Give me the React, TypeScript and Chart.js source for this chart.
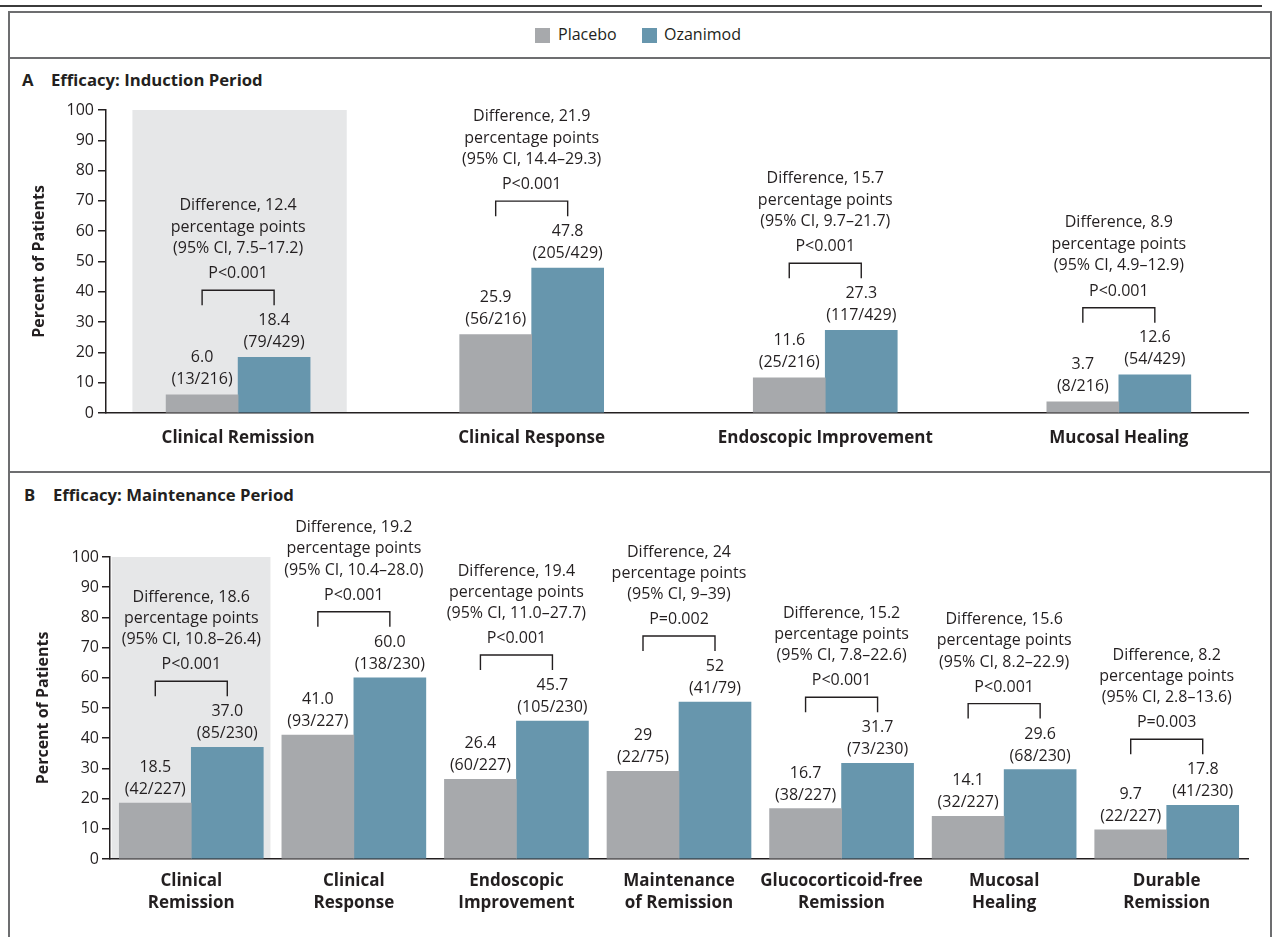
import React, { useEffect, useRef } from 'react';
import { Chart, registerables } from 'chart.js';

Chart.register(...registerables);

const FONT = '"Open Sans", "Noto Sans", sans-serif';
const TEXT = '#231f20';
const AXIS = '#231f20';
const PLACEBO_COLOR = '#a7a9ac';
const OZ_COLOR = '#6796ad';
const BAND_COLOR = '#e6e7e8';
const FRAME = '#6d6e70';

const seriesNames = ['Placebo', 'Ozanimod'];

// ---- Panel A: induction period ----
const categoriesA = ['Clinical Remission', 'Clinical Response', 'Endoscopic Improvement', 'Mucosal Healing'];
const placeboA = [6.0, 25.9, 11.6, 3.7];
const ozanimodA = [18.4, 47.8, 27.3, 12.6];
const placeboTextA = ['6.0', '25.9', '11.6', '3.7'];
const ozanimodTextA = ['18.4', '47.8', '27.3', '12.6'];
const placeboCountsA = ['13/216', '56/216', '25/216', '8/216'];
const ozanimodCountsA = ['79/429', '205/429', '117/429', '54/429'];
const differenceA = ['12.4', '21.9', '15.7', '8.9'];
const ciA = ['7.5–17.2', '14.4–29.3', '9.7–21.7', '4.9–12.9'];
const pValuesA = ['P<0.001', 'P<0.001', 'P<0.001', 'P<0.001'];

// ---- Panel B: maintenance period ----
const categoriesB = [
  ['Clinical', 'Remission'],
  ['Clinical', 'Response'],
  ['Endoscopic', 'Improvement'],
  ['Maintenance', 'of Remission'],
  ['Glucocorticoid-free', 'Remission'],
  ['Mucosal', 'Healing'],
  ['Durable', 'Remission'],
];
const placeboB = [18.5, 41.0, 26.4, 29, 16.7, 14.1, 9.7];
const ozanimodB = [37.0, 60.0, 45.7, 52, 31.7, 29.6, 17.8];
const placeboTextB = ['18.5', '41.0', '26.4', '29', '16.7', '14.1', '9.7'];
const ozanimodTextB = ['37.0', '60.0', '45.7', '52', '31.7', '29.6', '17.8'];
const placeboCountsB = ['42/227', '93/227', '60/227', '22/75', '38/227', '32/227', '22/227'];
const ozanimodCountsB = ['85/230', '138/230', '105/230', '41/79', '73/230', '68/230', '41/230'];
const differenceB = ['18.6', '19.2', '19.4', '24', '15.2', '15.6', '8.2'];
const ciB = ['10.8–26.4', '10.4–28.0', '11.0–27.7', '9–39', '7.8–22.6', '8.2–22.9', '2.8–13.6'];
const pValuesB = ['P<0.001', 'P<0.001', 'P<0.001', 'P=0.002', 'P<0.001', 'P<0.001', 'P=0.003'];

const yTicks = { min: 0, max: 100, step: 10 };

const annotationPlugin = {
  id: 'trialAnnotations',
  beforeDraw(chart: any, _args: any, o: any) {
    const { ctx, chartArea, scales } = chart;
    const x = scales.x;
    const l = x.getPixelForValue(o.band[0]);
    const r = x.getPixelForValue(o.band[1]);
    ctx.save();
    ctx.fillStyle = BAND_COLOR;
    ctx.fillRect(l, chartArea.top, r - l, chartArea.bottom - chartArea.top);
    ctx.restore();
  },
  afterDatasetsDraw(chart: any, _args: any, o: any) {
    const ctx = chart.ctx;
    const m0 = chart.getDatasetMeta(0).data;
    const m1 = chart.getDatasetMeta(1).data;
    const off = o.off;
    ctx.save();
    ctx.fillStyle = TEXT;
    ctx.strokeStyle = TEXT;
    ctx.lineWidth = 1.4;
    ctx.font = `16px ${FONT}`;
    ctx.textAlign = 'center';
    ctx.textBaseline = 'middle';
    for (let i = 0; i < m0.length; i++) {
      const a = m0[i];
      const b = m1[i];
      ctx.fillText(o.placeboText[i], a.x, a.y + off.val);
      ctx.fillText(`(${o.placeboCounts[i]})`, a.x, a.y + off.n);
      ctx.fillText(o.ozText[i], b.x, b.y + off.val);
      ctx.fillText(`(${o.ozCounts[i]})`, b.x, b.y + off.n);
      const top = Math.min(a.y, b.y);
      ctx.beginPath();
      ctx.moveTo(a.x, top + off.leg);
      ctx.lineTo(a.x, top + off.br);
      ctx.lineTo(b.x, top + off.br);
      ctx.lineTo(b.x, top + off.leg);
      ctx.stroke();
      const cx = (a.x + b.x) / 2;
      ctx.fillText(o.p[i], cx, top + off.p);
      ctx.fillText(`Difference, ${o.diff[i]}`, cx, top + off.d1);
      ctx.fillText('percentage points', cx, top + off.d2);
      ctx.fillText(`(95% CI, ${o.ci[i]})`, cx, top + off.d3);
    }
    ctx.restore();
  },
};

function buildConfig(p: any): any {
  const cats = p.categories;
  return {
    type: 'bar',
    data: {
      datasets: [
        {
          label: seriesNames[0],
          data: p.placebo.map((v: number, i: number) => ({ x: i, y: v })),
          backgroundColor: PLACEBO_COLOR,
          borderWidth: 0,
          barThickness: 72,
        },
        {
          label: seriesNames[1],
          data: p.oz.map((v: number, i: number) => ({ x: i, y: v })),
          backgroundColor: OZ_COLOR,
          borderWidth: 0,
          barThickness: 72,
        },
      ],
    },
    plugins: [annotationPlugin],
    options: {
      responsive: false,
      maintainAspectRatio: false,
      animation: false,
      events: [],
      layout: { padding: { top: p.padTop, left: 10, right: p.padRight, bottom: 0 } },
      scales: {
        x: {
          type: 'linear',
          min: p.xMin,
          max: p.xMax,
          offset: false,
          afterBuildTicks: (axis: any) => {
            axis.ticks = cats.map((_: any, i: number) => ({ value: i }));
          },
          afterFit: (axis: any) => {
            axis.height = p.xHeight;
          },
          grid: { display: false, drawTicks: false, offset: false },
          border: { display: true, color: AXIS, width: 1.5 },
          ticks: {
            autoSkip: false,
            maxRotation: 0,
            padding: p.xPad,
            color: TEXT,
            font: { family: FONT, size: 17, weight: 'bold', lineHeight: 1.32 },
            callback: (v: number) => cats[v],
          },
        },
        y: {
          min: yTicks.min,
          max: yTicks.max,
          afterFit: (axis: any) => {
            axis.width = p.yWidth;
          },
          grid: { display: true, drawOnChartArea: false, drawTicks: true, tickLength: 8, color: AXIS, lineWidth: 1.5 },
          border: { display: true, color: AXIS, width: 1.5 },
          ticks: {
            stepSize: yTicks.step,
            padding: p.yPad,
            color: TEXT,
            font: { family: FONT, size: 16 },
          },
          title: {
            display: true,
            text: 'Percent of Patients',
            color: TEXT,
            font: { family: FONT, size: 16, weight: 'bold', lineHeight: 1.2 },
            padding: { top: p.titlePad, bottom: 0 },
          },
        },
      },
      plugins: {
        legend: { display: false },
        tooltip: { enabled: false },
        trialAnnotations: {
          band: p.band,
          off: p.off,
          placeboText: p.placeboText,
          ozText: p.ozText,
          placeboCounts: p.placeboCounts,
          ozCounts: p.ozCounts,
          diff: p.diff,
          ci: p.ci,
          p: p.p,
        },
      },
    },
  };
}

const panelA = {
  categories: categoriesA,
  placebo: placeboA,
  oz: ozanimodA,
  placeboText: placeboTextA,
  ozText: ozanimodTextA,
  placeboCounts: placeboCountsA,
  ozCounts: ozanimodCountsA,
  diff: differenceA,
  ci: ciA,
  p: pValuesA,
  xMin: -0.45,
  xMax: 3.44,
  band: [-0.36, 0.37],
  padTop: 52,
  padRight: 25,
  xHeight: 58,
  xPad: 13.5,
  yWidth: 96,
  yPad: 4,
  titlePad: 19.5,
  off: { val: -37, n: -15, leg: -52, br: -67, p: -83.5, d1: -152, d2: -130, d3: -109 },
};

const panelB = {
  categories: categoriesB,
  placebo: placeboB,
  oz: ozanimodB,
  placeboText: placeboTextB,
  ozText: ozanimodTextB,
  placeboCounts: placeboCountsB,
  ozCounts: ozanimodCountsB,
  diff: differenceB,
  ci: ciB,
  p: pValuesB,
  xMin: -0.5,
  xMax: 6.5,
  band: [-0.49, 0.487],
  padTop: 85,
  padRight: 25,
  xHeight: 78,
  xPad: 10.5,
  yWidth: 100,
  yPad: 3,
  titlePad: 24,
  off: { val: -35.5, n: -13.5, leg: -51, br: -66, p: -82.5, d1: -150, d2: -129, d3: -107.5 },
};

function PanelChart({ spec, top, height }: { spec: any; top: number; height: number }) {
  const ref = useRef<HTMLCanvasElement | null>(null);
  useEffect(() => {
    if (!ref.current) return;
    const chart = new Chart(ref.current, buildConfig(spec));
    return () => chart.destroy();
  }, [spec]);
  return (
    <canvas
      ref={ref}
      width={1273}
      height={height}
      style={{ position: 'absolute', left: 0, top, width: 1273, height }}
    />
  );
}

const abs = (s: any): any => ({ position: 'absolute', ...s });

export default function App() {
  const textStyle = { fontFamily: FONT, fontSize: 16, lineHeight: '22px', color: TEXT, whiteSpace: 'nowrap' };
  const bold = { ...textStyle, fontSize: 16.7, fontWeight: 700 };
  return (
    <div style={{ position: 'fixed', left: 0, top: 0, width: 1273, height: 937, background: '#fff', overflow: 'hidden' }}>
      <div style={abs({ left: 0, top: 5, width: 1262, height: 2, background: '#3b3b3b' })} />
      <div
        style={abs({
          left: 8,
          top: 11,
          width: 1264,
          height: 1000,
          border: `2px solid ${FRAME}`,
          borderBottom: 'none',
          boxSizing: 'border-box',
        })}
      />
      <div style={abs({ left: 8, top: 57, width: 1264, height: 2, background: FRAME })} />
      <div style={abs({ left: 8, top: 471, width: 1264, height: 2, background: FRAME })} />

      {/* legend */}
      <div style={abs({ left: 535, top: 28, width: 15, height: 15, background: PLACEBO_COLOR })} />
      <div style={abs({ left: 558, top: 22.5, ...textStyle })}>{seriesNames[0]}</div>
      <div style={abs({ left: 642, top: 28, width: 15, height: 15, background: OZ_COLOR })} />
      <div style={abs({ left: 664, top: 22.5, ...textStyle })}>{seriesNames[1]}</div>

      {/* panel titles */}
      <div style={abs({ left: 22, top: 68.5, ...bold })}>A</div>
      <div style={abs({ left: 51, top: 68.5, ...bold })}>Efficacy: Induction Period</div>
      <div style={abs({ left: 24, top: 483.5, ...bold })}>B</div>
      <div style={abs({ left: 53, top: 483.5, ...bold })}>Efficacy: Maintenance Period</div>

      <PanelChart spec={panelA} top={58} height={413} />
      <PanelChart spec={panelB} top={472} height={465} />
    </div>
  );
}
